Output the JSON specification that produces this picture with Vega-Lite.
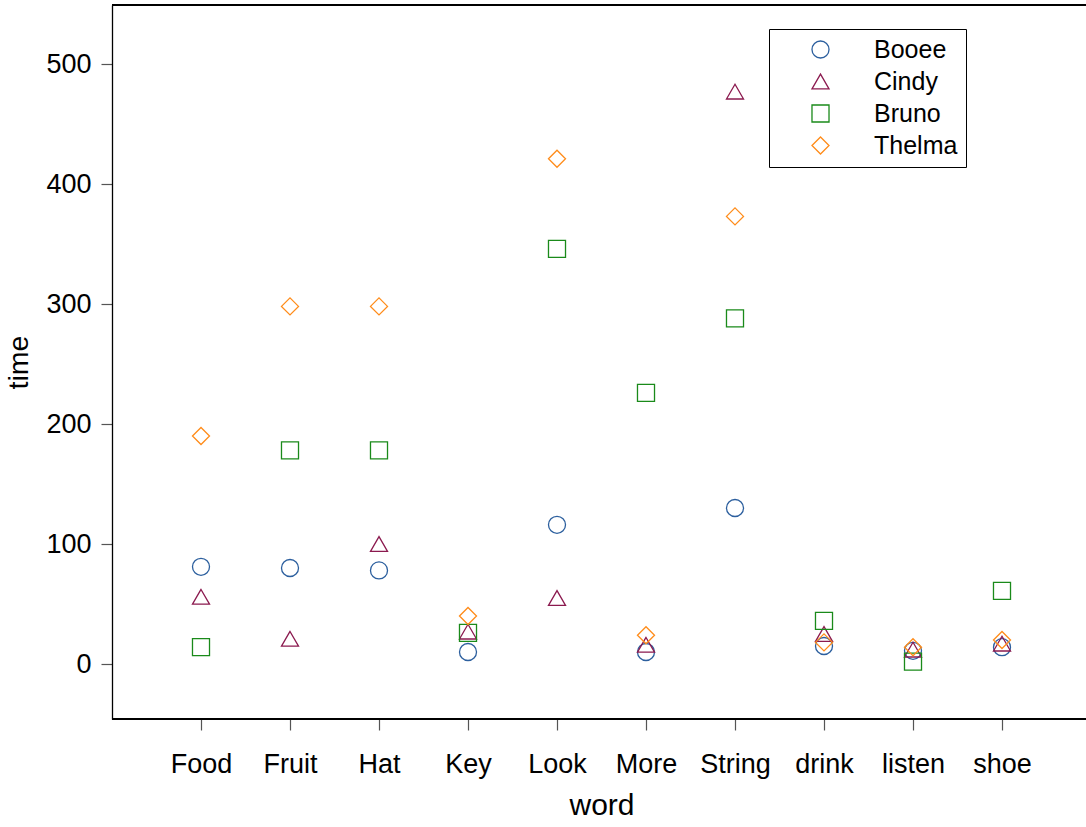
{
  "$schema": "https://vega.github.io/schema/vega-lite/v6.json",
  "width": 974,
  "height": 714,
  "autosize": {"type": "none"},
  "padding": {"left": 112, "top": 5, "right": 0, "bottom": 108},
  "config": {
    "view": {"stroke": null},
    "font": "Liberation Sans",
    "axis": {"grid": false}
  },
  "data": {
    "values": [
      {"word": "Food", "subject": "Booee", "time": 81},
      {"word": "Fruit", "subject": "Booee", "time": 80},
      {"word": "Hat", "subject": "Booee", "time": 78},
      {"word": "Key", "subject": "Booee", "time": 10},
      {"word": "Look", "subject": "Booee", "time": 116},
      {"word": "More", "subject": "Booee", "time": 10},
      {"word": "String", "subject": "Booee", "time": 130},
      {"word": "drink", "subject": "Booee", "time": 15},
      {"word": "listen", "subject": "Booee", "time": 11},
      {"word": "shoe", "subject": "Booee", "time": 14},
      {"word": "Food", "subject": "Cindy", "time": 56},
      {"word": "Fruit", "subject": "Cindy", "time": 21},
      {"word": "Hat", "subject": "Cindy", "time": 100},
      {"word": "Key", "subject": "Cindy", "time": 27},
      {"word": "Look", "subject": "Cindy", "time": 55},
      {"word": "More", "subject": "Cindy", "time": 16},
      {"word": "String", "subject": "Cindy", "time": 477},
      {"word": "drink", "subject": "Cindy", "time": 25},
      {"word": "listen", "subject": "Cindy", "time": 12},
      {"word": "shoe", "subject": "Cindy", "time": 17},
      {"word": "Food", "subject": "Bruno", "time": 14},
      {"word": "Fruit", "subject": "Bruno", "time": 178},
      {"word": "Hat", "subject": "Bruno", "time": 178},
      {"word": "Key", "subject": "Bruno", "time": 26},
      {"word": "Look", "subject": "Bruno", "time": 346},
      {"word": "More", "subject": "Bruno", "time": 226},
      {"word": "String", "subject": "Bruno", "time": 288},
      {"word": "drink", "subject": "Bruno", "time": 36},
      {"word": "listen", "subject": "Bruno", "time": 2},
      {"word": "shoe", "subject": "Bruno", "time": 61},
      {"word": "Food", "subject": "Thelma", "time": 190},
      {"word": "Fruit", "subject": "Thelma", "time": 298},
      {"word": "Hat", "subject": "Thelma", "time": 298},
      {"word": "Key", "subject": "Thelma", "time": 40},
      {"word": "Look", "subject": "Thelma", "time": 421},
      {"word": "More", "subject": "Thelma", "time": 24},
      {"word": "String", "subject": "Thelma", "time": 373},
      {"word": "drink", "subject": "Thelma", "time": 18},
      {"word": "listen", "subject": "Thelma", "time": 14},
      {"word": "shoe", "subject": "Thelma", "time": 20}
    ]
  },
  "layer": [
    {
      "mark": {"type": "rule", "color": "#000", "strokeWidth": 1.3},
      "encoding": {"y": {"datum": 549.17, "type": "quantitative"}}
    },
    {
      "mark": {"type": "rule", "color": "#000", "strokeWidth": 1.3},
      "encoding": {"y": {"datum": -45.83, "type": "quantitative"}}
    },
    {
      "mark": {"type": "point", "filled": false, "size": 290, "strokeWidth": 1.3, "opacity": 1},
      "encoding": {
        "x": {
          "field": "word", "type": "nominal", "sort": null,
          "scale": {"type": "point", "range": [89, 890], "padding": 0},
          "axis": {
            "orient": "bottom", "title": "word", "labelAngle": 0, "domain": false,
            "labelFontSize": 27, "labelColor": "#000", "labelPadding": 21,
            "tickColor": "#555", "tickSize": 11, "tickWidth": 1.2,
            "titleFontSize": 30, "titleFontWeight": "normal", "titleColor": "#000", "titlePadding": 13
          }
        },
        "y": {
          "field": "time", "type": "quantitative",
          "scale": {"domain": [-45.83, 549.17], "nice": false, "zero": false},
          "axis": {
            "values": [0, 100, 200, 300, 400, 500], "title": "time",
            "labelFontSize": 27, "labelColor": "#000", "labelPadding": 10,
            "tickColor": "#555", "tickSize": 11, "tickWidth": 1.2,
            "domainColor": "#000", "domainWidth": 1.3,
            "titleFontSize": 28.5, "titleFontWeight": "normal", "titleColor": "#000", "titlePadding": 12
          }
        },
        "shape": {
          "field": "subject", "type": "nominal",
          "scale": {"domain": ["Booee", "Cindy", "Bruno", "Thelma"], "range": ["circle", "triangle-up", "square", "diamond"]},
          "legend": {
            "title": null, "orient": "none", "legendX": 657, "legendY": 24,
            "strokeColor": "#000", "fillColor": "#fff", "padding": 8,
            "symbolOffset": 31, "symbolSize": 290, "symbolStrokeWidth": 1.3,
            "labelFontSize": 25, "labelColor": "#000", "labelOffset": 41,
            "rowPadding": 6
          }
        },
        "color": {
          "field": "subject", "type": "nominal",
          "scale": {"domain": ["Booee", "Cindy", "Bruno", "Thelma"], "range": ["#2c5f9e", "#8b1a4f", "#1a8a1a", "#ff8c1a"]},
          "legend": {
            "title": null, "orient": "none", "legendX": 657, "legendY": 24,
            "strokeColor": "#000", "fillColor": "#fff", "padding": 8,
            "symbolOffset": 31, "symbolSize": 290, "symbolStrokeWidth": 1.3,
            "labelFontSize": 25, "labelColor": "#000", "labelOffset": 41,
            "rowPadding": 6
          }
        }
      }
    }
  ]
}
